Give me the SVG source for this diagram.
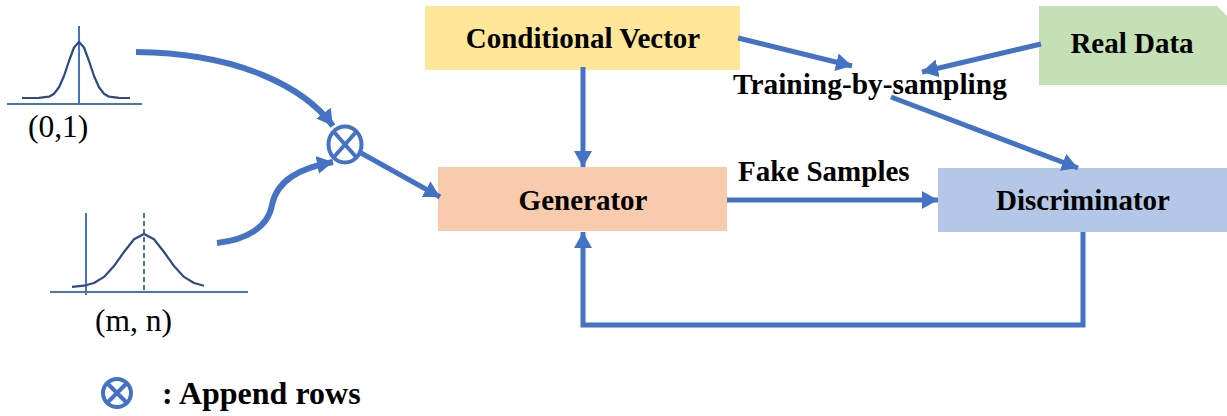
<svg xmlns="http://www.w3.org/2000/svg" width="1227" height="416" viewBox="0 0 1227 416">
<style>
.lbl{font-family:"Liberation Serif","Times New Roman",serif;font-weight:bold;font-size:29px;fill:#000}
.reg{font-family:"Liberation Serif","Times New Roman",serif;font-size:31.5px;fill:#000}
.con{fill:none;stroke:#4472C4;stroke-width:5}
.cur{fill:none;stroke:#4472C4;stroke-width:6}
.ax{fill:none;stroke:#4472C4;stroke-width:2}
.gs{fill:none;stroke:#2E4A86;stroke-width:2.2;stroke-linejoin:round}
.ring{fill:none;stroke:#4472C4;stroke-width:4}
</style>
<defs>
<marker id="ah" markerUnits="userSpaceOnUse" markerWidth="18" markerHeight="18" refX="16" refY="9" orient="auto" viewBox="0 0 18 18">
<path d="M0,0 L16,9 L0,18 z" fill="#4472C4"/>
</marker>
</defs>
<rect width="1227" height="416" fill="#fff"/>

<g id="dist01">
<line class="ax" x1="7" y1="104" x2="142" y2="104"/>
<line class="ax" x1="79" y1="26" x2="79" y2="104"/>
<polyline class="gs" points="22,98 39,97.9 49,96.7 54,93.7 59,87.3 64,76 69,61 74,47.5 79,42 84,47.5 89,61 94,76 99,87.3 104,93.7 109,96.7 119,97.9 130,98"/>
<text class="reg" x="28" y="137">(0,1)</text>
</g>

<g id="distmn">
<line class="ax" x1="50" y1="292" x2="248" y2="292"/>
<line class="ax" x1="86" y1="213" x2="86" y2="295"/>
<line class="ax" x1="144" y1="213" x2="144" y2="292" stroke-dasharray="5,3" stroke-width="1.5"/>
<polyline class="gs" points="72,286.8 84,285.7 94,283 104,276.9 114,266.1 124,252 134,239.2 144,234 154,239.2 164,252 174,266.1 184,276.9 194,283 204,285.7"/>
<text class="reg" x="95" y="331">(m, n)</text>
</g>

<g id="append">
<ellipse class="ring" cx="345" cy="144.5" rx="16.5" ry="18"/>
<line class="ring" x1="333.5" y1="131.5" x2="356.5" y2="157.5"/>
<line class="ring" x1="356.5" y1="131.5" x2="333.5" y2="157.5"/>
</g>

<g id="condvec">
<rect x="425" y="6" width="315" height="64" fill="#FFE699"/>
<text class="lbl" x="583" y="48" text-anchor="middle">Conditional Vector</text>
</g>

<g id="realdata">
<polygon points="1039,6 1217,6 1227,16 1227,85 1039,85" fill="#C5E0B4"/>
<text class="lbl" x="1132" y="53" text-anchor="middle">Real Data</text>
</g>

<g id="generator">
<rect x="438" y="167" width="289" height="64" fill="#F8CBAD"/>
<text class="lbl" x="583" y="210" text-anchor="middle">Generator</text>
</g>

<g id="discriminator">
<rect x="938" y="168" width="289" height="64" fill="#B4C7E7"/>
<text class="lbl" x="1083" y="210" text-anchor="middle">Discriminator</text>
</g>

<g id="connectors">
<path class="cur" d="M136,52 C240,53 305,88 333,126" marker-end="url(#ah)"/>
<path class="cur" d="M217,243 C245,240 268,228 272,205 C277,180 300,168 333,162" marker-end="url(#ah)"/>
<line class="con" x1="361" y1="153" x2="440" y2="197" marker-end="url(#ah)"/>
<line class="con" x1="583" y1="67" x2="583" y2="167" marker-end="url(#ah)"/>
<line class="con" x1="727" y1="200" x2="938" y2="200" marker-end="url(#ah)"/>
<polyline class="con" points="1083,232 1083,325 583,325 583,232" marker-end="url(#ah)"/>
<line class="con" x1="738" y1="38" x2="852" y2="66" marker-end="url(#ah)"/>
<line class="con" x1="1041" y1="44" x2="922" y2="72" marker-end="url(#ah)"/>
<line class="con" x1="891" y1="97" x2="1078" y2="168" marker-end="url(#ah)"/>
<text class="lbl" x="733" y="94" style="font-size:29.4px">Training-by-sampling</text>
<text class="lbl" x="738" y="181">Fake Samples</text>
</g>

<g id="legend">
<circle class="ring" cx="117" cy="393" r="14"/>
<line class="ring" x1="107" y1="383" x2="127" y2="403"/>
<line class="ring" x1="127" y1="383" x2="107" y2="403"/>
<text class="lbl" x="162" y="404" style="font-size:32px">: Append rows</text>
</g>
</svg>
